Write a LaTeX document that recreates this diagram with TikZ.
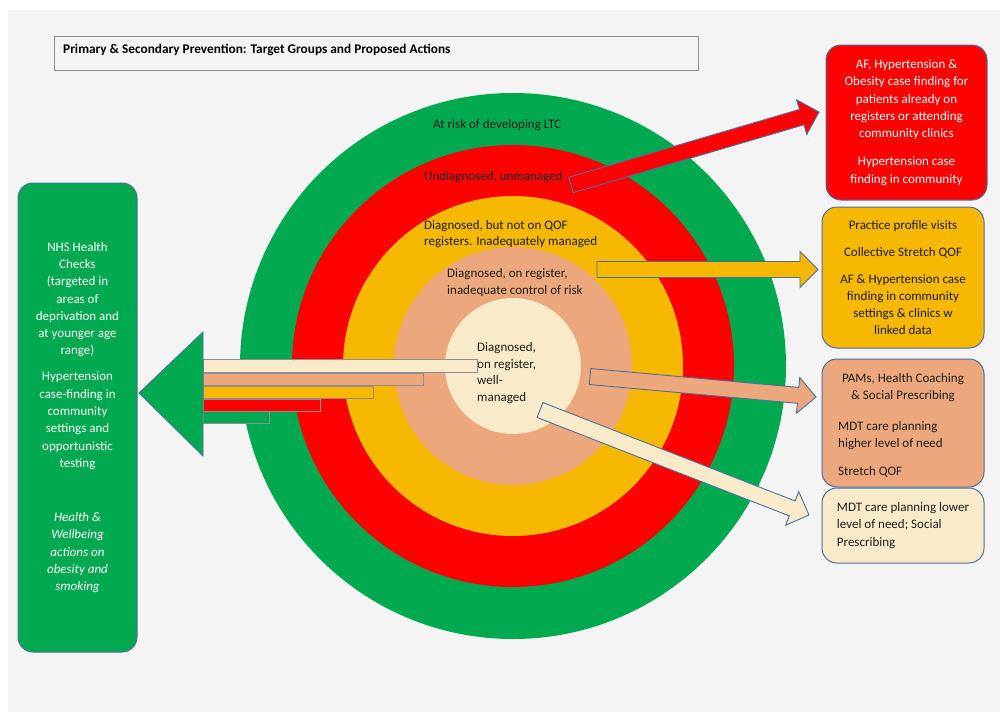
\documentclass[tikz,border=0pt]{standalone}
\usepackage{fontspec}
\setmainfont{Carlito}
\usetikzlibrary{calc,positioning}

\definecolor{ltcgreen}{HTML}{00A94F}
\definecolor{ltcred}{HTML}{FF0000}
\definecolor{ltcamber}{HTML}{F6B800}
\definecolor{ltcsalmon}{HTML}{ECA87C}
\definecolor{ltccream}{HTML}{F9EBC9}
\definecolor{bggray}{HTML}{F4F4F4}
\definecolor{edgeblue}{HTML}{4A6FA0}
\definecolor{bandgray}{HTML}{8F8F8F}
\definecolor{textdark}{HTML}{1E1E1E}

% block arrow from #2 (tail) to #3 (tip), filled with #1
\newcommand{\blockarrow}[3]{%
  \coordinate (hb) at ($(#3)!18pt!(#2)$);
  \draw[arrowedge,fill=#1] ($(#2)!8pt!90:(#3)$) -- ($(hb)!8pt!90:(#3)$) -- ($(hb)!18pt!90:(#3)$)
    -- (#3) -- ($(hb)!18pt!-90:(#3)$) -- ($(hb)!8pt!-90:(#3)$) -- ($(#2)!8pt!-90:(#3)$) -- cycle;}

\begin{document}
\begin{tikzpicture}[x=1pt,y=-1pt,
  ring/.style={circle,inner sep=0pt,minimum size=#1},
  ringtext/.style={font=\fontsize{13}{16.5}\selectfont,text=textdark,align=left,inner sep=0pt},
  actionbox/.style={rectangle,rounded corners=15pt,draw=edgeblue,line width=1pt,
    minimum width=162pt,font=\fontsize{13}{17.3}\selectfont,align=center},
  band/.style={draw=bandgray,line width=0.8pt},
  arrowedge/.style={draw=edgeblue,line width=0.9pt}]

\useasboundingbox (0,0) rectangle (1005,715);
\fill[white] (0,0) rectangle (1005,715);
\fill[bggray] (8,10) rectangle (1000,712);

% title
\draw[bandgray,line width=0.8pt] (54,36) rectangle (698,70);
\node[font=\bfseries\fontsize{13.3}{16}\selectfont,anchor=west,inner sep=0pt] (title) at (63,50)
  {Primary \& Secondary Prevention: Target Groups and Proposed Actions};

% target rings
\node[ring=546pt,fill=ltcgreen] (atrisk) at (513,366) {};
\node[ring=442pt,fill=ltcred] (undiag) at (atrisk.center) {};
\node[ring=340pt,fill=ltcamber] (noqof) at (atrisk.center) {};
\node[ring=238pt,fill=ltcsalmon] (inadeq) at (atrisk.center) {};
\node[ring=136pt,fill=ltccream] (wellman) at (atrisk.center) {};

\node[ringtext,anchor=west] (atrisklbl) at (433,125) {At risk of developing LTC};
\node[ringtext,anchor=west] (undiaglbl) at (424,177) {Undiagnosed, unmanaged};
\node[ringtext,anchor=west] (noqoflbl) at (424,234) {Diagnosed, but not on QOF\\registers. Inadequately managed};
\node[ringtext,anchor=west] (inadeqlbl) at (447,282.5) {Diagnosed, on register,\\inadequate control of risk};
\node[ringtext,anchor=west] (wellmanlbl) at (477,373) {Diagnosed,\\on register,\\well-\\managed};

% population-wide actions
\node[actionbox,fill=ltcgreen,text=white,minimum width=119pt,minimum height=469pt] (checks) at (77.5,417.5)
  {NHS Health\\Checks\\(targeted in\\areas of\\deprivation and\\at younger age\\range)\\[8.7pt]
   Hypertension\\case-finding in\\community\\settings and\\opportunistic\\testing\\[36.7pt]
   \textit{Health \&}\\\textit{Wellbeing}\\\textit{actions on}\\\textit{obesity and}\\\textit{smoking}};

\draw[band,fill=ltcgreen] (203,411) rectangle (269,423);
\draw[band,fill=ltcred] (203,399) rectangle (320,411);
\draw[band,fill=ltcamber] (203,386) rectangle (373,398);
\draw[band,fill=ltcsalmon] (203,373) rectangle (423,385);
\draw[band,fill=ltccream] (203,359) rectangle (477,372);
\draw[arrowedge,fill=ltcgreen] (203,332) -- (139,393) -- (203,456) -- cycle;

% targeted actions
\node[actionbox,fill=ltcred,text=white,minimum width=161pt,minimum height=155pt] (redbox) at (906.5,122.5)
  {AF, Hypertension \&\\Obesity case finding for\\patients already on\\registers or attending\\community clinics\\[10.7pt]
   Hypertension case\\finding in community};
\node[actionbox,fill=ltcamber,text=textdark,minimum height=141pt] (amberbox) at (903,277.5)
  {Practice profile visits\\[9.7pt]Collective Stretch QOF\\[9.7pt]AF \& Hypertension case\\finding in community\\settings \& clinics w\\linked data};
\node[actionbox,fill=ltcsalmon,minimum height=128pt] (salmonbox) at (903,423) {};
\node[font=\fontsize{13}{17.3}\selectfont,text=textdark,align=center] (salmontop) at (903,387.5)
  {PAMs, Health Coaching\\\& Social Prescribing};
\node[font=\fontsize{13}{17.3}\selectfont,text=textdark,align=left,inner sep=0pt,anchor=west] (salmonlist) at (838,449)
  {MDT care planning\\higher level of need\\[10.7pt]Stretch QOF};
\node[actionbox,fill=ltccream,text=textdark,align=left,minimum height=75pt] (creambox) at (903,525.5)
  {MDT care planning lower\\level of need; Social\\Prescribing};

% arrows
\coordinate (redtail) at (571,185);
\coordinate (redtip) at (819,112);
\coordinate (ambertail) at (597,269.5);
\coordinate (ambertip) at (818,269.5);
\coordinate (salmontail) at (590,376.5);
\coordinate (salmontip) at (816,397);
\coordinate (creamtail) at (540,410);
\coordinate (creamtip) at (809,515);
\blockarrow{ltcred}{redtail}{redtip}
\blockarrow{ltcamber}{ambertail}{ambertip}
\blockarrow{ltcsalmon}{salmontail}{salmontip}
\blockarrow{ltccream}{creamtail}{creamtip}

\end{tikzpicture}
\end{document}
